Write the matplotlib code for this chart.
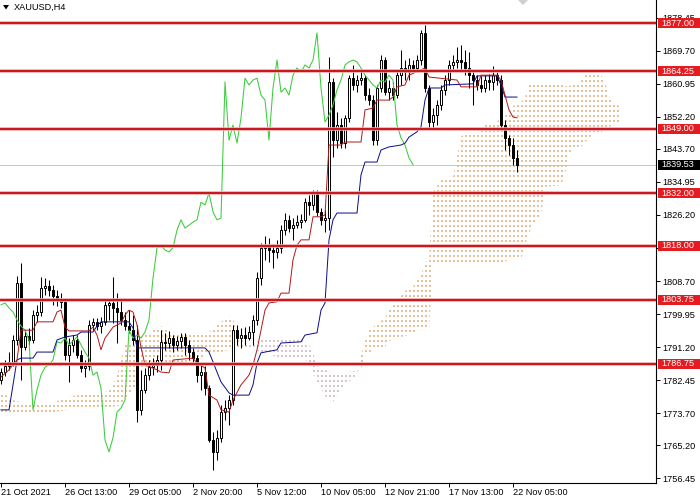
import numpy as np
import matplotlib
matplotlib.use('Agg')
import matplotlib.pyplot as plt
from matplotlib.path import Path
from matplotlib.patches import Rectangle, Polygon
from matplotlib.transforms import blended_transform_factory
from matplotlib.colors import to_rgba

plt.rcParams['font.family'] = ['Liberation Sans', 'DejaVu Sans']

symbol = 'XAUUSD,H4'

open_ = [1782.5,1784.6,1786.2,1787.3,1793.1,1808.2,1791.2,1794.2,1793.1,1799.7,
         1800.5,1806.9,1807.4,1806.3,1804.7,1803.7,1803.2,1789.1,1791.8,1793.1,
         1789.1,1785.7,1786.2,1797.1,1797.9,1796.8,1797.9,1802.4,1802.9,1801.6,
         1800.5,1798.4,1796.8,1795.7,1793.1,1774.6,1779.9,1783.8,1785.9,1786.5,
         1787.8,1792.6,1792.3,1793.6,1791.8,1792.8,1793.9,1791.8,1789.9,1788.3,
         1783.8,1784.6,1780.4,1766.6,1763.5,1767.2,1774.0,1775.1,1777.2,1795.7,
         1793.6,1794.4,1793.6,1795.2,1798.4,1809.5,1817.5,1818.2,1816.9,1816.4,
         1817.5,1822.2,1824.9,1822.7,1823.5,1824.3,1824.9,1829.6,1828.8,1832.0,
         1827.0,1824.9,1825.4,1861.4,1846.0,1850.0,1845.2,1851.9,1862.4,1860.6,
         1861.9,1862.4,1857.9,1856.6,1846.0,1859.8,1867.2,1858.7,1859.8,1857.9,
         1863.2,1865.1,1864.0,1865.9,1865.1,1867.2,1874.4,1859.8,1850.8,1852.6,
         1855.3,1859.3,1861.9,1865.9,1866.7,1867.2,1866.7,1865.1,1863.2,1861.9,
         1860.6,1859.8,1861.9,1861.4,1863.2,1861.9,1850.0,1846.6,1844.7,1841.3]
high = [1785.7,1787.8,1789.9,1794.4,1810.0,1813.5,1795.7,1796.3,1801.0,1802.4,
        1809.8,1809.5,1809.0,1807.6,1806.3,1805.5,1803.7,1793.6,1794.4,1794.4,
        1790.5,1787.8,1798.4,1798.9,1798.9,1799.2,1803.7,1803.7,1809.8,1805.5,
        1803.7,1800.5,1801.0,1799.7,1797.1,1785.2,1785.7,1787.8,1788.3,1789.1,
        1795.7,1794.9,1795.5,1794.4,1794.2,1794.9,1794.9,1793.1,1791.0,1789.1,
        1786.5,1786.2,1781.2,1768.7,1769.3,1775.9,1777.2,1778.5,1797.1,1797.1,
        1796.3,1796.5,1796.8,1799.7,1811.1,1818.8,1820.6,1820.1,1818.5,1819.6,
        1823.5,1826.7,1826.2,1825.4,1826.2,1826.5,1830.7,1831.5,1832.8,1832.8,
        1828.0,1827.5,1868.0,1862.4,1853.4,1851.9,1852.6,1863.2,1865.9,1863.2,
        1864.6,1863.2,1859.8,1857.9,1860.6,1868.5,1868.0,1861.9,1861.4,1864.6,
        1869.9,1867.2,1867.7,1867.2,1868.5,1875.2,1876.5,1860.6,1854.5,1856.6,
        1860.6,1863.2,1867.2,1868.5,1870.7,1871.2,1869.9,1869.3,1864.6,1863.2,
        1863.0,1863.2,1863.5,1865.6,1864.0,1863.2,1851.3,1847.4,1846.6,1843.4]
low = [1781.5,1783.6,1785.2,1786.2,1791.8,1782.5,1790.5,1791.8,1792.3,1797.9,
       1799.4,1805.0,1804.7,1802.4,1802.1,1801.6,1787.8,1782.0,1789.9,1788.3,
       1784.6,1783.3,1785.2,1795.7,1795.7,1795.0,1797.1,1798.4,1797.6,1792.3,
       1797.1,1795.7,1795.0,1791.8,1771.4,1773.2,1779.1,1782.5,1783.8,1784.6,
       1785.2,1790.5,1791.0,1789.9,1790.5,1791.0,1789.1,1787.8,1787.3,1782.0,
       1779.9,1778.5,1766.1,1758.7,1761.3,1766.1,1771.9,1770.6,1775.9,1791.8,
       1791.0,1791.8,1793.1,1791.8,1797.1,1807.7,1814.3,1813.7,1812.2,1814.8,
       1816.1,1820.9,1821.7,1819.6,1822.7,1822.7,1824.3,1826.2,1827.5,1825.9,
       1823.5,1821.7,1822.2,1841.5,1843.9,1843.9,1843.9,1850.8,1859.3,1858.7,
       1860.6,1856.6,1855.3,1844.7,1844.7,1858.7,1857.9,1856.6,1856.6,1857.2,
       1860.6,1861.9,1861.9,1864.0,1864.0,1865.9,1858.7,1849.2,1849.2,1850.0,
       1854.0,1857.9,1860.6,1864.6,1865.1,1864.6,1863.2,1859.8,1855.3,1859.3,
       1858.7,1858.7,1859.3,1859.3,1860.6,1848.7,1843.4,1842.1,1839.4,1837.6]
close = [1784.6,1786.2,1787.3,1793.1,1808.2,1791.2,1794.2,1793.1,1799.7,1800.5,
         1806.9,1807.4,1806.3,1804.7,1803.7,1803.2,1789.1,1791.8,1793.1,1789.1,
         1785.7,1786.2,1797.1,1797.9,1796.8,1797.9,1802.4,1802.9,1801.6,1800.5,
         1798.4,1796.8,1795.7,1793.1,1774.6,1779.9,1783.8,1785.9,1786.5,1787.8,
         1792.6,1792.3,1793.6,1791.8,1792.8,1793.9,1791.8,1789.9,1788.3,1783.8,
         1784.6,1780.4,1766.6,1763.5,1767.2,1774.0,1775.1,1777.2,1795.7,1793.6,
         1794.4,1793.6,1795.2,1798.4,1809.5,1817.5,1818.2,1816.9,1816.4,1817.5,
         1822.2,1824.9,1822.7,1823.5,1824.3,1824.9,1829.6,1828.8,1832.0,1827.0,
         1824.9,1825.4,1861.4,1846.0,1850.0,1845.2,1851.9,1862.4,1860.6,1861.9,
         1862.4,1857.9,1856.6,1846.0,1859.8,1867.2,1858.7,1859.8,1857.9,1863.2,
         1865.1,1864.0,1865.9,1865.1,1867.2,1874.4,1859.8,1850.8,1852.6,1855.3,
         1859.3,1861.9,1865.9,1866.7,1867.2,1866.7,1865.1,1863.2,1861.9,1860.6,
         1859.8,1861.9,1861.4,1863.2,1861.9,1850.0,1846.6,1844.7,1841.3,1839.53]

date_label_bars = [0, 16, 32, 48, 64, 80, 96, 112, 128]
date_labels = ['21 Oct 2021', '26 Oct 13:00', '29 Oct 05:00', '2 Nov 20:00', '5 Nov 12:00',
               '10 Nov 05:00', '12 Nov 21:00', '17 Nov 13:00', '22 Nov 05:00']

tenkan_bars = [0,2,3,4,5,8,9,13,14,15,16,17,22,23,24,25,26,27,28,30,
               31,32,33,34,35,36,39,40,42,43,48,49,51,52,54,55,57,58,60,62,
               63,64,65,66,67,69,70,72,73,74,75,77,78,80,81,82,85,86,90,91,
               93,94,97,98,99,101,102,105,106,107,114,115,119,120,124,125,126,127,128,129]
tenkan = [1783.3,1785.2,1786.5,1787.8,1795.7,1795.7,1797.9,1797.9,1800.5,1801.0,
          1796.5,1795.5,1795.5,1796.5,1794.4,1790.5,1793.6,1795.0,1796.5,1797.6,
          1799.7,1801.0,1800.5,1797.1,1791.2,1786.5,1785.2,1784.6,1784.4,1787.8,
          1788.3,1787.0,1785.7,1778.5,1777.2,1774.6,1774.0,1777.2,1781.2,1783.8,
          1786.5,1790.5,1795.7,1801.0,1802.9,1803.2,1805.5,1805.5,1814.3,1818.2,
          1819.6,1819.6,1825.7,1825.7,1826.2,1844.7,1844.7,1845.5,1845.5,1854.0,
          1854.5,1856.6,1856.6,1857.4,1860.1,1860.6,1863.2,1864.6,1865.1,1862.7,
          1861.9,1860.1,1860.1,1863.2,1863.2,1861.9,1857.9,1854.0,1852.1,1851.9]

kijun_bars = [0,2,3,4,5,8,9,13,14,16,19,20,23,24,25,32,33,34,51,52,
              53,54,55,57,58,62,63,64,65,69,70,75,76,79,80,81,82,83,84,89,
              90,91,94,95,97,100,101,102,104,105,106,107,110,111,118,119,124,125,126,129]
kijun = [1774.6,1774.6,1781.2,1787.8,1788.3,1788.3,1789.9,1789.9,1793.1,1793.9,
         1794.4,1795.2,1795.2,1796.8,1797.9,1797.9,1796.3,1791.0,1791.0,1789.9,
         1787.3,1784.6,1782.0,1779.1,1778.5,1778.5,1781.2,1787.0,1789.7,1790.5,
         1792.3,1792.6,1794.4,1795.0,1801.0,1802.9,1819.6,1824.9,1826.7,1826.7,
         1836.8,1840.2,1840.2,1843.4,1844.2,1844.7,1845.2,1846.8,1848.2,1849.5,
         1856.6,1859.8,1859.8,1860.6,1860.9,1863.0,1863.0,1860.6,1857.4,1857.4]

cloud_bars = [0,3,8,12,17,22,26,28,29,30,31,34,35,40,42,46,50,51,55,57,
              59,60,61,65,70,75,77,78,79,81,83,86,89,90,91,92,93,96,97,99,
              101,103,104,105,106,107,108,110,113,114,115,120,121,124,125,127,128,130,131,132,
              133,135,136,140,141,142,143,145,146,147,148,150,151,152,153,155]
span_a = [1779.3,1777.2,1775.9,1776.2,1778.0,1779.1,1779.1,1781.2,1783.8,1787.8,
          1792.0,1792.0,1793.9,1796.8,1795.2,1795.0,1795.0,1794.2,1797.9,1799.4,
          1797.3,1794.4,1791.0,1789.9,1788.3,1788.3,1787.3,1784.4,1782.2,1778.3,
          1776.7,1781.2,1783.8,1788.9,1792.8,1795.5,1796.5,1798.9,1801.0,1803.4,
          1806.1,1807.1,1809.0,1810.3,1813.5,1814.5,1832.3,1835.4,1836.2,1841.3,
          1847.1,1848.4,1850.0,1850.8,1852.4,1852.9,1855.0,1856.1,1857.2,1860.9,
          1861.4,1861.4,1861.4,1861.4,1860.3,1860.3,1860.6,1861.7,1863.2,1863.2,
          1863.2,1863.2,1861.4,1857.7,1855.9,1854.8]
span_b = [1773.2,1773.2,1773.8,1773.8,1774.6,1775.1,1775.1,1775.4,1775.6,1775.9,
          1777.2,1781.2,1785.7,1786.2,1786.5,1787.3,1788.3,1789.1,1789.9,1790.5,
          1790.5,1791.0,1791.8,1793.1,1793.6,1793.6,1791.8,1789.9,1786.2,1785.2,
          1784.4,1784.6,1784.9,1784.9,1788.9,1789.7,1790.5,1791.2,1792.8,1793.6,
          1794.2,1795.0,1795.7,1795.7,1795.7,1795.7,1813.5,1813.5,1813.5,1813.5,
          1813.5,1813.5,1813.5,1813.5,1813.5,1814.3,1814.3,1814.3,1818.2,1821.4,
          1823.5,1826.2,1833.6,1834.1,1836.8,1842.1,1844.2,1844.2,1845.5,1846.3,
          1847.9,1847.9,1849.5,1849.5,1850.0,1850.0]

levels = [1877.00, 1864.25, 1849.00, 1832.00, 1818.00, 1803.75, 1786.75]
price_ticks = [1878.45, 1869.70, 1860.95, 1852.20, 1843.70, 1834.95, 1826.20, 1817.45,
               1808.70, 1799.95, 1791.20, 1782.45, 1773.70, 1765.20, 1756.45]
last_price = 1839.53
chikou_shift = 26

# ---------------------------------------------------------------- layout
FW, FH = 700, 500
AX_W, AX_H, AX_B = 656, 483, 17
fig = plt.figure(figsize=(FW / 100, FH / 100), dpi=100)
fig.patch.set_facecolor('white')
ax = fig.add_axes([0, AX_B / FH, AX_W / FW, AX_H / FH])
ymin, ymax = 1755.24, 1883.09
xmin, xmax = -0.25, 163.75
fs = 6.6

# ---------------------------------------------------------------- cloud (dotted texture)
sandy = '#e6c29c'
thistle = '#d9c6cc'
rows = np.arange(AX_H)
bar_cols = np.arange(0, 164) * 4 + 1
bar_cols = np.concatenate([bar_cols, bar_cols + 1])
bar_cols = bar_cols[bar_cols < AX_W]
mask = np.zeros((AX_H, AX_W), bool)
mask[np.ix_(rows % 5 < 2, bar_cols)] = True

cb = np.array(cloud_bars, float)
sa = np.array(span_a)
sb = np.array(span_b)
for where, col in [(sa >= sb, sandy), (sa < sb, thistle)]:
    coll = ax.fill_between(cb, sa, sb, where=where, interpolate=True,
                           facecolor='none', edgecolor='none')
    paths = [p for p in coll.get_paths() if len(p.vertices) > 2]
    coll.remove()
    if not paths:
        continue
    tex = np.ones((AX_H, AX_W, 4))
    tex[..., 3] = 0.0
    tex[mask] = to_rgba(col, 1.0)
    im = ax.imshow(tex, extent=(xmin, xmax, ymin, ymax), origin='upper',
                   interpolation='nearest', interpolation_stage='rgba',
                   aspect='auto', zorder=1)
    im.set_clip_path(Path.make_compound_path(*paths), transform=ax.transData)

# ---------------------------------------------------------------- price line & levels
ax.axhline(last_price, color='#c4c4c4', lw=0.7, zorder=1.5)
for lv in levels:
    ax.axhline(lv, color='#f2b0b0', lw=2.6, zorder=6)
    ax.axhline(lv, color='#c81a1e', lw=1.5, zorder=6.1)

# ---------------------------------------------------------------- candles
o = np.array(open_); h = np.array(high); l = np.array(low); c = np.array(close)
bars = np.arange(len(c))
up = c >= o
ax.vlines(bars, l, h, color='black', lw=0.75, zorder=3)
bb = np.minimum(o, c)
bh = np.maximum(np.abs(c - o), 0.05)
ax.bar(bars[up], bh[up], bottom=bb[up], width=0.5, facecolor='white',
       edgecolor='black', linewidth=0.7, zorder=3.2)
ax.bar(bars[~up], bh[~up], bottom=bb[~up], width=0.5, facecolor='black',
       edgecolor='black', linewidth=0.7, zorder=3.2)

# ---------------------------------------------------------------- ichimoku lines
ax.plot(bars[:-chikou_shift], c[chikou_shift:], color='#3ccc3c', lw=0.75, zorder=4)
ax.plot(tenkan_bars, tenkan, color='#b01818', lw=0.7, zorder=4.2)
ax.plot(kijun_bars, kijun, color='#0a0a8c', lw=0.7, zorder=4.1)

# ---------------------------------------------------------------- axes styling
ax.set_xlim(xmin, xmax)
ax.set_ylim(ymin, ymax)
for s in ['left', 'top']:
    ax.spines[s].set_visible(False)
for s in ['right', 'bottom']:
    ax.spines[s].set_linewidth(0.8)
    ax.spines[s].set_color('black')
ax.set_facecolor('white')

ax.yaxis.tick_right()
ax.set_yticks(price_ticks)
hidden = {1817.45}
ax.set_yticklabels(['' if v in hidden else f'{v:.2f}' for v in price_ticks])
ax.tick_params(axis='y', length=3, width=0.7, pad=1.6, labelsize=fs, colors='black')
ax.set_xticks(date_label_bars)
ax.set_xticklabels(date_labels)
ax.tick_params(axis='x', length=3, width=0.7, pad=0.8, labelsize=fs, colors='black')
for lbl in ax.get_xticklabels():
    lbl.set_horizontalalignment('left')

blend = blended_transform_factory(fig.transFigure, ax.transData)
box_h = 2.65
for lv in levels:
    ax.add_patch(Rectangle((658 / FW, lv - box_h / 2), 42 / FW, box_h, transform=blend,
                           facecolor='#e41b20', edgecolor='none', clip_on=False, zorder=10))
    ax.text(661 / FW, lv, f'{lv:.2f}', transform=blend, color='white', fontsize=fs,
            va='center', ha='left', zorder=11, clip_on=False)
ax.add_patch(Rectangle((658 / FW, last_price - box_h / 2), 42 / FW, box_h, transform=blend,
                       facecolor='black', edgecolor='none', clip_on=False, zorder=10))
ax.text(661 / FW, last_price, f'{last_price:.2f}', transform=blend, color='white',
        fontsize=fs, va='center', ha='left', zorder=11, clip_on=False)
ax.set_xlim(xmin, xmax)
ax.set_ylim(ymin, ymax)

# ---------------------------------------------------------------- header
fig.add_artist(Polygon([(3 / FW, 1 - 5 / FH), (9 / FW, 1 - 5 / FH), (6 / FW, 1 - 9.5 / FH)],
                       closed=True, transform=fig.transFigure, facecolor='black',
                       edgecolor='none'))
fig.text(14 / FW, 1 - 7.5 / FH, symbol, fontsize=fs, va='center', ha='left', color='black')
fig.add_artist(Polygon([(518 / FW, 1.0), (528 / FW, 1.0), (523 / FW, 1 - 5 / FH)],
                       closed=True, transform=fig.transFigure, facecolor='#cfcfcf',
                       edgecolor='none'))

fig.savefig('out.png', dpi=100)
